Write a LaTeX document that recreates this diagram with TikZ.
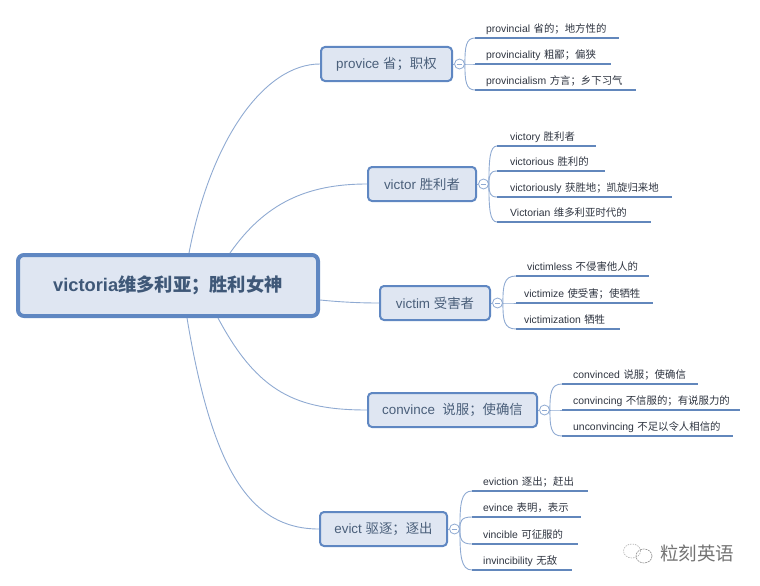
\documentclass[tikz,border=0pt]{standalone}
\usepackage{fontspec}
\usetikzlibrary{calc}
\setmainfont{Liberation Sans}
\newfontfamily\zhfont{Noto Sans CJK SC}
\newcommand{\zh}[1]{{\zhfont #1}}
\definecolor{edge}{HTML}{5F87C2}
\definecolor{boxfill}{HTML}{DFE6F2}
\definecolor{titletext}{HTML}{3F5878}
\definecolor{midtext}{HTML}{4A5F7A}
\definecolor{linkcol}{HTML}{8FAAD2}
\definecolor{underl}{HTML}{6287BC}
\definecolor{leaftext}{HTML}{2E3440}
\tikzset{
  rootbox/.style={draw=edge,line width=4pt,fill=boxfill,rounded corners=6pt,inner sep=0pt,text=titletext,font=\fontsize{18.3}{20}\selectfont\bfseries},
  midbox/.style={draw=edge,line width=2pt,fill=boxfill,rounded corners=4pt,inner sep=0pt,text=midtext,font=\fontsize{13.4}{15}\selectfont},
  midlabel/.style={text=midtext,font=\fontsize{13.4}{15}\selectfont},
  leafbox/.style={inner sep=0pt,anchor=south west,minimum height=18pt,text=leaftext,font=\fontsize{10.4}{12}\selectfont},
  linkline/.style={draw=linkcol,line width=.9pt},
  togglenode/.style={circle,draw=linkcol,line width=.8pt,fill=white,minimum size=10pt,inner sep=0pt},
  togglebar/.style={draw=linkcol,line width=.7pt},
  underline/.style={draw=underl,line width=2.7pt},
}
% name, toggle, x, y of underline, width, text inset, text
\newcommand{\leaf}[7]{%
  \node[leafbox,minimum width=#5pt,text width=#5pt] (#1) at (#3,#4) {\hspace*{#6pt}#7};
  \draw[linkline] (#2.east) .. controls ($(#2.east)!.65!(#2.east |- #1.south west)$) and ($(#2.east |- #1.south west)+(1,0)$) .. (#1.south west);
  \draw[underline] (#1.south west) -- (#1.south east);
}
\newcommand{\togg}[2]{%
  \node[togglenode] (#1) at ($(#2.east)+(6.5,0)$) {};
  \draw[linkline] (#2.east) -- (#1.west);
  \draw[togglebar] ([xshift=2.5pt]#1.west) -- ([xshift=-2.5pt]#1.east);
}
\begin{document}
\begin{tikzpicture}[x=1pt,y=-1pt]
\useasboundingbox (0,0) rectangle (760,586);
% root
\node[rootbox,minimum width=300pt,minimum height=61pt] (root) at (168,285.5) {victoria\zh{维多利亚；胜利女神}};
% main topics
\node[midbox,minimum width=131pt,minimum height=34pt] (prov) at (386.5,64) {\raisebox{-1pt}{provice \zh{省；职权}}};
\node[midbox,minimum width=108pt,minimum height=34pt] (vict) at (422,184) {\raisebox{-1pt}{victor \zh{胜利者}}};
\node[midbox,minimum width=110pt,minimum height=34pt] (vicm) at (435,303) {\raisebox{-1pt}{victim \zh{受害者}}};
\node[midbox,minimum width=169pt,minimum height=34pt] (conv) at (452.5,410) {\raisebox{-1pt}{convince\ \ \zh{说服；使确信}}};
\node[midbox,minimum width=127pt,minimum height=34pt] (evic) at (383.5,529) {\raisebox{-1pt}{evict \zh{驱逐；逐出}}};
% links from the root
\draw[linkline] ([xshift=173pt]root.north west) .. controls +(22,-115) and +(-55,0) .. (prov.west);
\draw[linkline] ([xshift=214pt]root.north west) .. controls +(35,-50) and +(-60,0) .. (vict.west);
\draw[linkline] (root.east |- 0,300) .. controls +(20,2) and +(-20,0) .. (vicm.west);
\draw[linkline] ([xshift=202pt]root.south west) .. controls +(40,75) and +(-70,0) .. (conv.west);
\draw[linkline] ([xshift=171pt]root.south west) .. controls +(25,150) and +(-70,0) .. (evic.west);
% provice
\togg{tp}{prov}
\leaf{pa}{tp}{475}{38}{144}{11}{provincial \zh{省的；地方性的}}
\leaf{pb}{tp}{475}{64}{136}{11}{provinciality \zh{粗鄙；偏狭}}
\leaf{pc}{tp}{475}{90}{161}{11}{provincialism \zh{方言；乡下习气}}
% victor
\togg{tv}{vict}
\leaf{va}{tv}{497}{146}{99}{13}{victory \zh{胜利者}}
\leaf{vb}{tv}{497}{171}{108}{13}{victorious \zh{胜利的}}
\leaf{vc}{tv}{497}{197}{175}{13}{victoriously \zh{获胜地；凯旋归来地}}
\leaf{vd}{tv}{497}{222}{154}{13}{Victorian \zh{维多利亚时代的}}
% victim
\togg{tm}{vicm}
\leaf{ma}{tm}{516}{276}{133}{11}{victimless \zh{不侵害他人的}}
\leaf{mb}{tm}{516}{303}{137}{8}{victimize \zh{使受害；使牺牲}}
\leaf{mc}{tm}{516}{329}{104}{8}{victimization \zh{牺牲}}
% convince
\togg{tc}{conv}
\leaf{ca}{tc}{562}{384}{136}{11}{convinced \zh{说服；使确信}}
\leaf{cb}{tc}{562}{410}{178}{11}{convincing \zh{不信服的；有说服力的}}
\leaf{cc}{tc}{562}{436}{171}{11}{unconvincing \zh{不足以令人相信的}}
% evict
\togg{te}{evic}
\leaf{ea}{te}{472}{491}{116}{11}{eviction \zh{逐出；赶出}}
\leaf{eb}{te}{472}{517}{109}{11}{evince \zh{表明，表示}}
\leaf{ec}{te}{472}{544}{106}{11}{vincible \zh{可征服的}}
\leaf{ed}{te}{472}{570}{100}{11}{invincibility \zh{无敌}}
% watermark
\node[inner sep=0pt,anchor=west,text=black!55,font=\fontsize{18.5}{20}\selectfont] (mark) at (660,553) {\zh{粒刻英语}};
\draw[black!30,line width=.6pt,dash pattern=on 1.5pt off 1pt] (632,551) ellipse (8.5pt and 7pt);
\draw[black!45,line width=.6pt,dash pattern=on 2pt off .8pt] (644,556) ellipse (8pt and 7pt);
\end{tikzpicture}
\end{document}
